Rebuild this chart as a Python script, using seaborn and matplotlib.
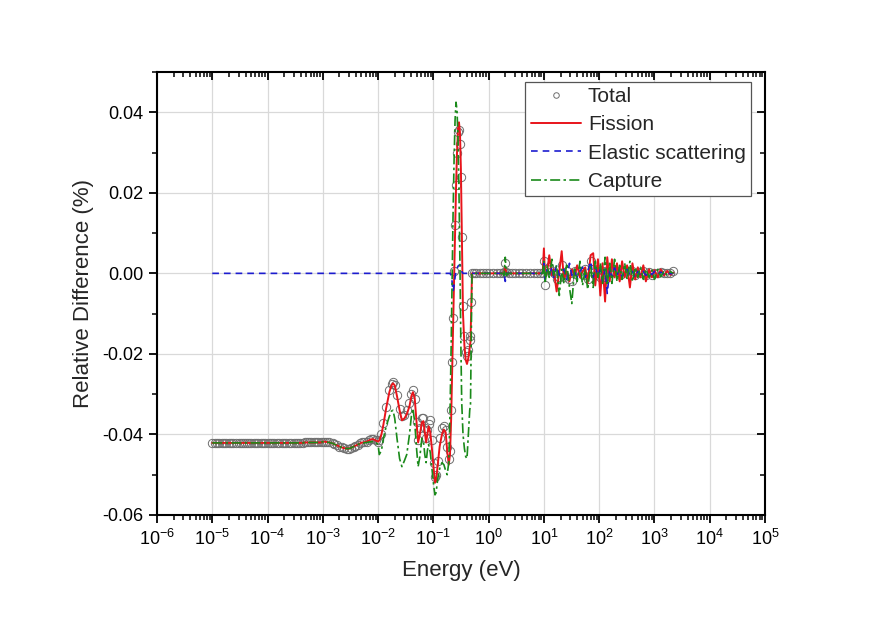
import numpy as np
import pandas as pd
import matplotlib
matplotlib.use("Agg")
import matplotlib.pyplot as plt
import seaborn as sns
from matplotlib.ticker import LogLocator, FixedLocator, FormatStrFormatter, NullFormatter

# ---------------- data (energies in eV, differences in 1e-3 %) ----------------
# smooth 1/v region
energy_low = [1.0e-5, 1.1e-5, 1.2e-5, 1.3e-5, 1.5e-5, 1.6e-5, 1.8e-5, 2.0e-5, 2.2e-5, 2.4e-5, 2.7e-5, 3.0e-5,
              3.3e-5, 3.6e-5, 3.9e-5, 4.3e-5, 4.7e-5, 5.1e-5, 5.6e-5, 6.2e-5, 6.8e-5, 7.5e-5, 8.2e-5, 9.1e-5,
              1.0e-4, 1.1e-4, 1.2e-4, 1.3e-4, 1.5e-4, 1.6e-4, 1.8e-4, 2.0e-4, 2.2e-4, 2.4e-4, 2.7e-4, 3.0e-4,
              3.3e-4, 3.6e-4, 3.9e-4, 4.3e-4, 4.7e-4, 5.1e-4, 5.6e-4, 6.2e-4, 6.8e-4, 7.5e-4, 8.2e-4, 9.1e-4,
              1.0e-3, 1.1e-3, 1.2e-3, 1.3e-3, 1.5e-3, 1.6e-3, 1.8e-3, 2.0e-3, 2.2e-3, 2.4e-3, 2.7e-3, 3.0e-3,
              3.3e-3, 3.6e-3, 3.9e-3, 4.3e-3, 4.7e-3, 5.1e-3, 5.6e-3, 6.2e-3, 6.8e-3, 7.5e-3, 8.2e-3, 9.1e-3]
fission_low = [-42.1] * 40 + [-42.0] * 8 + \
              [-41.8, -41.8, -41.9, -42.0, -42.2, -42.4, -42.7, -43.0, -43.2, -43.4, -43.5, -43.5,
               -43.3, -43.0, -42.8, -42.5, -42.2, -42.0, -42.0, -41.8, -41.5, -41.2, -41.2, -41.5]
capture_low = [-42.1] * 40 + [-42.0] * 8 + \
              [-41.8, -41.8, -41.9, -42.0, -42.2, -42.4, -42.7, -43.0, -43.2, -43.4, -43.5, -43.5,
               -43.3, -43.0, -42.8, -42.5, -42.3, -42.2, -42.1, -42.0, -41.9, -41.8, -41.8, -42.0]
elastic_low = [0.0] * 72
total_low = [-42.1] * 40 + [-42.0] * 8 + \
            [-41.8, -41.8, -41.9, -42.0, -42.2, -42.4, -42.7, -43.0, -43.2, -43.4, -43.5, -43.5,
             -43.3, -43.0, -42.8, -42.5, -42.2, -42.0, -42.0, -41.8, -41.5, -41.2, -41.2, -41.5]

# resolved resonances
energy_res = [0.0100, 0.0105, 0.0115, 0.0125, 0.0140, 0.0160, 0.0175, 0.0186, 0.0200, 0.0220,
              0.0245, 0.0270, 0.0300, 0.0330, 0.0370, 0.0400, 0.0427, 0.0460, 0.0500, 0.0530,
              0.0570, 0.0620, 0.0660, 0.0700, 0.0740, 0.0780, 0.0820, 0.0880, 0.0950, 0.1020,
              0.1070, 0.1120, 0.1200, 0.1300, 0.1430, 0.1550, 0.1670, 0.1780, 0.1900, 0.2000,
              0.2100, 0.2180, 0.2270, 0.2370, 0.2470, 0.2570, 0.2680, 0.2800, 0.2910, 0.3030,
              0.3150, 0.3260, 0.3440, 0.3650, 0.3850, 0.4060, 0.4300, 0.4550, 0.4700, 0.4850, 0.5000]
fission_res = [-41.8, -41.5, -40.0, -37.5, -33.5, -29.5, -27.8, -27.3, -27.8, -30.5,
               -34.0, -36.5, -36.0, -35.0, -33.0, -30.5, -29.5, -31.0, -37.5, -42.0,
               -40.0, -37.0, -36.7, -39.5, -42.0, -40.0, -38.0, -39.5, -44.0, -49.0,
               -52.0, -51.5, -47.5, -43.0, -40.0, -38.8, -39.5, -44.0, -47.5, -45.0,
               -36.0, -25.0, -14.0, -2.0, 10.0, 21.0, 30.0, 36.0, 37.5, 35.0,
               26.0, 12.0, -10.0, -18.0, -21.5, -22.5, -21.0, -18.5, -17.0, -8.0, 0.0]
capture_res = [-42.5, -45.0, -44.0, -41.0, -38.0, -35.5, -34.2, -34.0, -36.0, -41.0,
               -46.0, -48.0, -46.5, -45.0, -40.0, -35.5, -33.5, -37.0, -44.0, -48.0,
               -45.5, -41.0, -41.5, -45.0, -47.0, -44.0, -42.5, -44.5, -49.0, -53.0,
               -55.0, -54.5, -51.0, -48.5, -47.0, -47.5, -49.0, -50.0, -47.0, -35.0,
               -18.0, -2.0, 14.0, 28.0, 38.0, 42.5, 40.5, 33.0, 20.0, 2.0,
               -18.0, -32.0, -40.0, -43.5, -45.5, -46.0, -40.0, -34.0, -32.5, -15.0, 0.0]
elastic_res = [0.0] * 40 + \
              [-0.5, -2.0, -4.5, -3.0, -1.0, 0.5, 1.2, 1.8, 2.0, 2.2,
               1.5, 0.5, 0.0, 0.0, 0.0, 0.0, 0.0, 0.0, 0.0, 0.0, 0.0]
total_res = [-41.8, -41.4, -39.8, -37.2, -33.2, -29.0, -27.4, -27.0, -27.6, -30.2,
             -33.8, -35.5, -35.2, -34.0, -32.3, -30.0, -29.0, -31.2, -37.0, -41.5,
             -38.5, -36.0, -36.0, -38.5, -41.0, -39.0, -37.5, -36.5, -41.5, -47.0,
             -50.5, -50.0, -46.5, -41.0, -38.5, -38.0, -39.0, -43.0, -46.0, -44.0,
             -34.0, -22.0, -11.0, 0.5, 12.0, 22.0, 30.0, 35.0, 35.5, 32.0,
             24.0, 9.0, -8.0, -15.5, -19.5, -20.5, -19.0, -16.5, -15.5, -7.0, 0.0]

# 0.5 - 10 eV
energy_mid = [0.55, 0.60, 0.70, 0.80, 0.90, 1.0, 1.2, 1.4, 1.6, 1.8, 1.9, 2.0, 2.1, 2.3, 2.6,
              3.0, 3.5, 4.0, 4.7, 5.5, 6.5, 7.5, 8.5, 9.5]
fission_mid = [0, 0, 0, 0, 0, 0, 0, 0, 0, 0, 0, 1.5, 0, 0, 0, 0, 0, 0, 0, 0, 0, 0, 0, 0]
capture_mid = [0, 0, 0, 0, 0, 0, 0, 0, 0, 0, -0.5, 4.0, -0.5, 0, 0, 0, 0, 0, 0, 0, 0, 0, 0, 0]
elastic_mid = [0, 0, 0, 0, 0, 0, 0, 0, 0, 0, 0, -2.0, 0, 0, 0, 0, 0, 0, 0, 0, 0, 0, 0, 0]
total_mid = [0, 0, 0, 0, 0, 0, 0, 0, 0, 0, 0.3, 2.5, 0.3, 0, 0, 0, 0, 0, 0, 0, 0, 0, 0, 0]

# unresolved / noisy region 10 eV - 2.2 keV
energy_hi = [10, 10.5, 11.5, 12.5, 14, 15, 17, 19, 21, 23, 26, 29, 32, 36, 40, 45, 50, 56, 62, 70,
             78, 85, 95, 105, 115, 128, 140, 155, 170, 190, 210, 235, 260, 290, 320, 360, 400, 450,
             500, 560, 630, 700, 800, 900, 1000, 1150, 1300, 1500, 1700, 1950, 2200]
fission_hi = [6.2, -1.0, 0.5, 4.5, -0.5, 1.0, -4.5, 0.5, 5.5, -1.5, 0.5, -2.0, 1.0, -0.5, 2.0, -1.0,
              0.5, 1.5, -2.5, 4.5, 5.0, -3.0, 3.5, -5.5, 2.5, -7.0, 4.0, -2.0, 3.5, -1.0, 2.5, -2.0,
              3.0, -1.0, 2.0, -3.5, 2.5, -1.5, 1.5, -1.0, 2.0, -2.0, 1.0, -1.0, 0.8, -1.0, 1.0, -0.5,
              0.6, -0.4, 0.2]
capture_hi = [3.0, -2.5, 2.0, -1.0, 3.5, -0.5, 2.0, -5.5, 1.0, -2.5, 2.5, -3.5, -7.5, 1.5, -2.0, 3.0,
              -3.0, 1.0, -4.0, 2.0, -3.5, 3.0, -1.0, 2.5, -2.5, 4.0, -3.0, 2.5, -2.5, 3.5, -2.0, 2.0,
              -1.5, 2.5, -1.5, 3.0, -2.0, 1.5, -1.0, 1.5, -1.5, 1.0, -1.0, 0.8, -1.5, 1.0, -0.8, 0.6,
              -0.5, 0.4, 0.0]
elastic_hi = [2.5, -1.5, 1.0, -0.5, 1.5, -1.0, 2.0, -0.5, 0.5, 1.0, -1.5, 2.5, -0.5, 0.5, -1.0, 0.5,
              1.5, -1.0, 0.5, 3.0, -1.0, 1.5, -0.5, 1.0, -2.0, 1.0, -5.0, 1.0, -1.0, 1.5, -0.5, 1.0,
              -1.0, 0.5, 1.0, -0.5, 0.5, -1.0, 0.5, -0.5, 0.5, -0.5, 0.3, -0.3, 0.5, -0.3, 0.3, -0.2,
              0.2, -0.1, 0.0]
total_hi = [3.0, -3.0, 1.0, 1.5, 0.5, 0.0, -1.5, -1.0, 2.0, -1.0, 0.5, -1.5, -2.0, 0.5, 0.5, 0.5,
            -0.5, 1.0, -1.5, 3.0, 1.0, -0.5, 1.0, -1.0, 0.5, -1.0, 0.5, 0.0, 0.5, 0.5, 0.5, -0.5,
            0.5, 0.5, 0.5, -0.5, 0.5, -0.5, 0.3, 0.0, 0.5, -0.5, 0.3, -0.3, 0.0, 0.0, 0.3, 0.0,
            0.2, 0.0, 0.5]

energy = energy_low + energy_res + energy_mid + energy_hi
series = {
    "Total": total_low + total_res + total_mid + total_hi,
    "Fission": fission_low + fission_res + fission_mid + fission_hi,
    "Elastic scattering": elastic_low + elastic_res + elastic_mid + elastic_hi,
    "Capture": capture_low + capture_res + capture_mid + capture_hi,
}
df = pd.DataFrame({"E": energy})
for k, v in series.items():
    df[k] = np.array(v) * 1e-3

# ---------------- style ----------------
sns.set_style("white")
plt.rcParams["font.family"] = ["Liberation Sans", "DejaVu Sans"]
plt.rcParams["mathtext.fontset"] = "custom"
plt.rcParams["mathtext.rm"] = "Liberation Sans"
plt.rcParams["axes.unicode_minus"] = False

fig = plt.figure(figsize=(8.86, 6.18), dpi=100)
rect = [0.1772, 0.1667, 0.6862, 0.7168]
ax = fig.add_axes(rect)

sns.lineplot(data=df, x="E", y="Total", ax=ax, estimator=None, sort=False, linestyle="none",
             marker="o", markersize=6, markerfacecolor="none", markeredgecolor="#6e6e6e",
             markeredgewidth=0.7, label="Total")
sns.lineplot(data=df, x="E", y="Fission", ax=ax, estimator=None, sort=False, color="#e8141b",
             linewidth=1.4, label="Fission")
sns.lineplot(data=df, x="E", y="Elastic scattering", ax=ax, estimator=None, sort=False,
             color="#1c1ccf", linewidth=1.2, linestyle=(0, (4, 3)), label="Elastic scattering")
sns.lineplot(data=df, x="E", y="Capture", ax=ax, estimator=None, sort=False, color="#1a8a1a",
             linewidth=1.2, linestyle=(0, (6, 2, 1.5, 2)), label="Capture")

major_y = [-0.06, -0.04, -0.02, 0.0, 0.02, 0.04]
minor_y = [-0.05, -0.03, -0.01, 0.01, 0.03, 0.05]


def setup_axis(a):
    a.set_xscale("log")
    a.set_xlim(1e-6, 1e5)
    a.set_ylim(-0.06, 0.05)
    a.xaxis.set_major_locator(LogLocator(base=10, numticks=20))
    a.xaxis.set_minor_locator(LogLocator(base=10, subs=np.arange(2, 10), numticks=20))
    a.xaxis.set_minor_formatter(NullFormatter())
    a.yaxis.set_major_locator(FixedLocator(major_y))
    a.yaxis.set_minor_locator(FixedLocator(minor_y))


setup_axis(ax)
ax.yaxis.set_major_formatter(FormatStrFormatter("%.2f"))
ax.grid(True, which="major", color="#d9d9d9", linewidth=0.9)
ax.set_axisbelow(True)
for s in ax.spines.values():
    s.set_color("black")
    s.set_linewidth(1.5)
ax.tick_params(which="both", bottom=True, left=True, top=False, right=False, direction="out",
               colors="black")
ax.tick_params(which="major", length=6, width=1.3, labelsize=13, pad=4)
ax.tick_params(which="minor", length=3.5, width=1.1)

# overlay axes carrying the inward ticks on top and right
ax2 = fig.add_axes(rect, facecolor="none")
setup_axis(ax2)
for s in ax2.spines.values():
    s.set_visible(False)
ax2.tick_params(which="both", bottom=False, left=False, top=True, right=True, direction="in",
                labelbottom=False, labelleft=False, labeltop=False, labelright=False, colors="black")
ax2.tick_params(which="major", length=6, width=1.3)
ax2.tick_params(which="minor", length=3.5, width=1.1)

ax.set_xlabel("Energy (eV)", fontsize=16, labelpad=8)
ax.set_ylabel("Relative Difference (%)", fontsize=16, labelpad=6)

leg = ax.legend(loc="upper right", bbox_to_anchor=(0.977, 0.978), fontsize=15, frameon=True,
                fancybox=False, edgecolor="#555555", framealpha=1, handlelength=2.4,
                handletextpad=0.35, labelspacing=0.45, borderpad=0.25, borderaxespad=0)
leg.get_frame().set_linewidth(0.9)
leg.legend_handles[0].set_markersize(4)
leg.set_zorder(5)

fig.savefig("out.png", dpi=100)
